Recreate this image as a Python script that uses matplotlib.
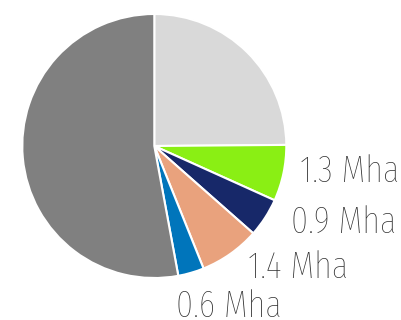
import matplotlib
matplotlib.use("Agg")
import matplotlib.pyplot as plt

# land area by class, million hectares
values = [4.7, 1.3, 0.9, 1.4, 0.6, 10.0]
colors = ["#d9d9d9", "#8aef14", "#172869", "#e9a27d", "#0075bb", "#808080"]
labels = ["", "1.3 Mha", "0.9 Mha", "1.4 Mha", "0.6 Mha", ""]
# label anchor (left x, baseline y) in pixels from the top-left corner
label_pos = [None, (300, 182), (291, 233), (248, 278), (176, 317), None]

W, H = 401, 320
fig = plt.figure(figsize=(W / 100, H / 100), dpi=100)
ax = fig.add_axes([0, 0, 1, 1])

ax.pie(values, colors=colors, startangle=90, counterclock=False,
       center=(154.3, H - 146), radius=132,
       wedgeprops=dict(edgecolor="white", linewidth=1.5))
ax.set_xlim(0, W)
ax.set_ylim(0, H)
ax.set_aspect("equal")
ax.axis("off")

for lab, pos in zip(labels, label_pos):
    if pos is None:
        continue
    ax.text(pos[0], H - pos[1], lab, fontsize=27,
            family="Fira Sans Extra Condensed", fontweight="light",
            color="#2e2e2e", ha="left", va="baseline")

fig.savefig("out.png", dpi=100)
